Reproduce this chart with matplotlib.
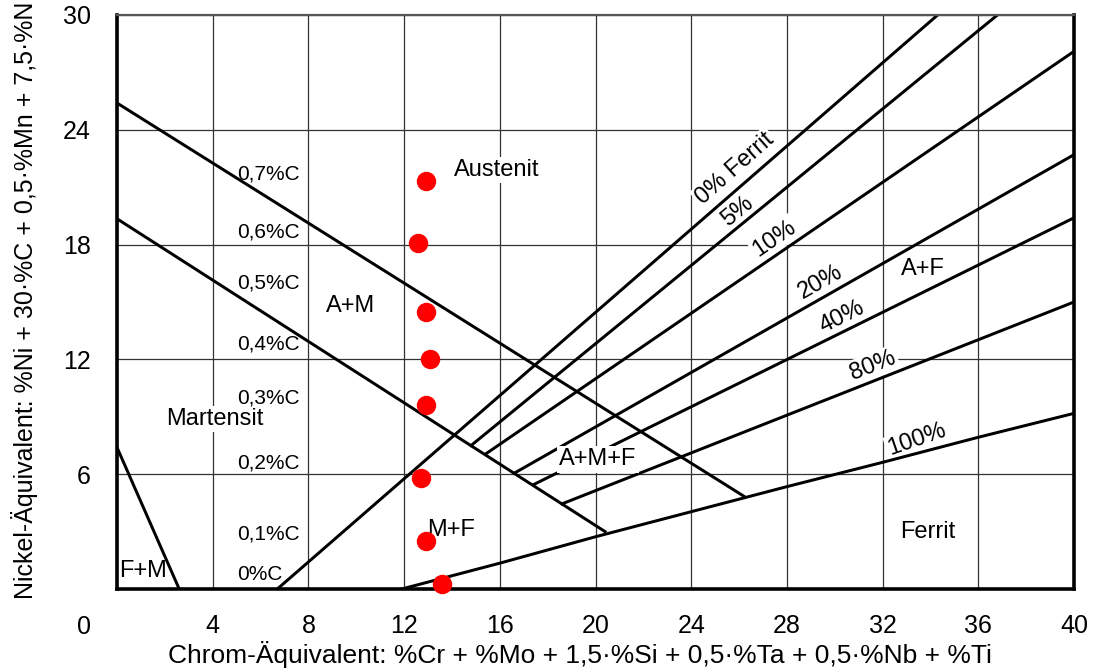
import numpy as np
import matplotlib.pyplot as plt

plt.rcParams['font.family'] = ['Liberation Sans', 'DejaVu Sans']

# measured samples (Cr-equivalent, Ni-equivalent)
cr_eq = [12.9, 12.6, 12.9, 13.1, 12.9, 12.7, 12.9, 13.6]
ni_eq = [21.3, 18.1, 14.5, 12.0, 9.6, 5.8, 2.5, 0.25]

# phase boundaries of the Schaeffler diagram
c_upper_x = [0.0, 26.2]
c_upper_y = [25.4, 4.85]
c_lower_x = [0.0, 20.4]
c_lower_y = [19.35, 3.0]
fm_x = [0.0, 2.6]
fm_y = [7.4, 0.0]

# ferrite lines: start / end
ferrite_x0 = [6.7, 14.8, 15.4, 16.6, 17.4, 18.6]
ferrite_y0 = [0.0, 7.5, 7.05, 6.05, 5.45, 4.45]
ferrite_x1 = [34.3, 36.8, 40.0, 40.0, 40.0, 40.0]
ferrite_y1 = [30.0, 30.0, 28.1, 22.7, 19.4, 15.0]

ferrite100_x = [11.9, 16, 20, 24, 28, 32, 36, 40]
ferrite100_y = [0.0, 1.35, 2.73, 4.04, 5.35, 6.62, 7.93, 9.18]

carbon_labels = ['0,7%C', '0,6%C', '0,5%C', '0,4%C', '0,3%C', '0,2%C', '0,1%C', '0%C']
carbon_y = [21.7, 18.64, 16.0, 12.8, 10.0, 6.6, 2.85, 0.78]

region_labels = ['Austenit', 'A+M', 'Martensit', 'M+F', 'A+F', 'Ferrit']
region_x = [15.85, 9.75, 4.1, 13.95, 33.7, 33.9]
region_y = [21.9, 14.8, 8.9, 3.1, 16.7, 3.0]

pct_labels = ['0% Ferrit', '5%', '10%', '20%', '40%', '80%', '100%']
pct_x = [25.84, 25.95, 27.48, 29.42, 30.3, 31.6, 33.45]
pct_y = [21.95, 19.72, 18.33, 16.06, 14.2, 11.67, 7.79]
pct_rot = [41.5, 39.5, 34.5, 29.5, 26.5, 21.5, 19]

W, H = 1096, 670
fig = plt.figure(figsize=(W / 100, H / 100), dpi=100)
ax = fig.add_axes([117 / W, (H - 589) / H, (1074 - 117) / W, (589 - 15) / H])
ax.set_xlim(0, 40)
ax.set_ylim(0, 30)

ax.set_xticks(np.arange(0, 41, 4))
ax.set_yticks(np.arange(0, 31, 6))
ax.set_xticklabels([''] + [str(v) for v in range(4, 41, 4)])
ax.set_yticklabels([''] + [str(v) for v in range(6, 31, 6)])
ax.tick_params(length=0, labelsize=18)
ax.tick_params(axis='x', pad=18)
ax.tick_params(axis='y', pad=19)
ax.annotate('0', xy=(0, 0), xytext=(-24, -27), textcoords='offset points',
            ha='center', va='center', fontsize=18, annotation_clip=False)

ax.set_axisbelow(True)
ax.grid(True, color='#333333', linewidth=0.9)

for side in ['left', 'bottom', 'right']:
    ax.spines[side].set_linewidth(2.6)
ax.spines['top'].set_linewidth(1.6)
ax.spines['top'].set_color('#555555')

lw = 2.15
ax.plot(c_upper_x, c_upper_y, color='black', lw=lw, zorder=2)
ax.plot(c_lower_x, c_lower_y, color='black', lw=lw, zorder=2)
ax.plot(fm_x, fm_y, color='black', lw=lw, zorder=2)
for x0, y0, x1, y1 in zip(ferrite_x0, ferrite_y0, ferrite_x1, ferrite_y1):
    ax.plot([x0, x1], [y0, y1], color='black', lw=lw, zorder=2)
ax.plot(ferrite100_x, ferrite100_y, color='black', lw=lw, zorder=2)

white = dict(facecolor='white', edgecolor='none', pad=1.5)

for lab, y in zip(carbon_labels, carbon_y):
    ax.text(5.03, y, lab, fontsize=15, ha='left', va='center', zorder=3)

for lab, x, y in zip(region_labels, region_x, region_y):
    ax.text(x, y, lab, fontsize=17, ha='center', va='center', bbox=white, zorder=1.5)
ax.text(20.1, 6.77, 'A+M+F', fontsize=17, ha='center', va='center', bbox=white, zorder=3)
ax.text(0.1, 0.95, 'F+M', fontsize=17, ha='left', va='center', zorder=3)

for lab, x, y, r in zip(pct_labels, pct_x, pct_y, pct_rot):
    ax.text(x, y, lab, fontsize=17, ha='center', va='center', rotation=r,
            rotation_mode='anchor', bbox=white, zorder=1.5)

ax.plot(cr_eq, ni_eq, 'o', color='#ff0000', markersize=14, markeredgewidth=0,
        zorder=4, clip_on=False)

fig.text(580 / W, 1 - 654 / H,
         'Chrom-Äquivalent: %Cr + %Mo + 1,5·%Si + 0,5·%Ta + 0,5·%Nb + %Ti',
         fontsize=19, ha='center', va='center')
fig.text(25 / W, 1 - 300 / H,
         'Nickel-Äquivalent: %Ni + 30·%C + 0,5·%Mn + 7,5·%N',
         fontsize=18, ha='center', va='center', rotation=90)

fig.savefig('out.png', dpi=100)
